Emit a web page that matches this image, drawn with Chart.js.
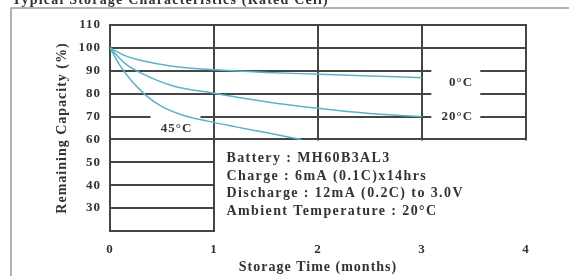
<!DOCTYPE html>
<html>
<head>
<meta charset="utf-8">
<script src="https://cdn.jsdelivr.net/npm/chart.js@4.4.1/dist/chart.umd.min.js"></script>
<style>
  html, body { margin: 0; padding: 0; background: #fff; }
  #wrap { width: 569px; height: 276px; position: relative; }
</style>
</head>
<body>
<div id="wrap"><canvas id="storageChart"></canvas></div>
<script>
// storage characteristics
var months0 = [0, 0.15, 0.3, 0.6, 1.0, 1.5, 2.0, 2.5, 3.0];
var cap0 = [100, 96.5, 94.5, 92.0, 90.4, 89.3, 88.5, 87.7, 87.0];

var months20 = [0, 0.15, 0.3, 0.6, 1.0, 1.5, 2.0, 2.5, 3.0];
var cap20 = [100, 93.0, 89.0, 83.5, 80.2, 76.5, 73.6, 71.3, 70.0];

var months45 = [0, 0.1, 0.2, 0.34, 0.5, 0.7, 0.95, 1.2, 1.5, 1.84];
var cap45 = [100, 92.0, 86.0, 79.5, 74.3, 70.6, 67.9, 65.6, 63.0, 60.0];

var seriesLabels = ['0\u00b0C', '20\u00b0C', '45\u00b0C'];
var xTicks = [0, 1, 2, 3, 4];
var yTicks = [30, 40, 50, 60, 70, 80, 90, 100, 110];

var noteLines = [
    'Battery : MH60B3AL3',
    'Charge : 6mA (0.1C)x14hrs',
    'Discharge : 12mA (0.2C) to 3.0V',
    'Ambient Temperature : 20\u00b0C'
];
var headline = 'Typical Storage Characteristics (Rated Cell)';

var serif = "'Liberation Serif', 'Times New Roman', serif";
var curveColor = '#5ab2c9';
var gridColor = '#454545';

var toPoints = function (xs, ys) {
    return xs.map(function (x, i) { return { x: x, y: ys[i] }; });
};

// the grid of the original is irregular, so it is drawn by hand from the scales
var gridPlugin = {
    id: 'handGrid',
    beforeDraw: function (chart) {
        chart.ctx.letterSpacing = '1px';
    },
    beforeDatasetsDraw: function (chart) {
        var ctx = chart.ctx;
        var xs = chart.scales.x, ys = chart.scales.y;
        var hLines = [
            { v: 110, segs: [[0, 4]] },
            { v: 100, segs: [[0, 4]] },
            { v: 90, segs: [[0, 3.08], [3.57, 4]] },
            { v: 80, segs: [[0, 3.08], [3.57, 4]] },
            { v: 70, segs: [[0, 0.38], [0.88, 3.08], [3.57, 4]] },
            { v: 60, segs: [[0, 4]] },
            { v: 50, segs: [[0, 1]] },
            { v: 40, segs: [[0, 1]] },
            { v: 30, segs: [[0, 1]] },
            { v: 20, segs: [[0, 1]] }
        ];
        var vLines = [
            { v: 0, from: 20, to: 110 },
            { v: 1, from: 20, to: 110 },
            { v: 2, from: 60, to: 110 },
            { v: 3, from: 60, to: 110 },
            { v: 4, from: 60, to: 110 }
        ];
        ctx.save();
        ctx.strokeStyle = gridColor;
        ctx.lineWidth = 2;
        ctx.lineCap = 'square';
        hLines.forEach(function (h) {
            var py = Math.round(ys.getPixelForValue(h.v));
            h.segs.forEach(function (s) {
                ctx.beginPath();
                ctx.moveTo(xs.getPixelForValue(s[0]), py);
                ctx.lineTo(xs.getPixelForValue(s[1]), py);
                ctx.stroke();
            });
        });
        vLines.forEach(function (l) {
            var px = Math.round(xs.getPixelForValue(l.v));
            ctx.beginPath();
            ctx.moveTo(px, ys.getPixelForValue(l.from));
            ctx.lineTo(px, ys.getPixelForValue(l.to));
            ctx.stroke();
        });

        // outer frame of the datasheet figure
        ctx.strokeStyle = '#9a9a9a';
        ctx.lineWidth = 1.5;
        ctx.beginPath();
        ctx.moveTo(11, chart.height);
        ctx.lineTo(11, 8);
        ctx.lineTo(chart.width, 8);
        ctx.stroke();
        ctx.restore();
    },
    afterDatasetsDraw: function (chart) {
        var ctx = chart.ctx;
        var xs = chart.scales.x, ys = chart.scales.y;
        ctx.save();
        ctx.fillStyle = '#333';
        ctx.font = 'bold 13px ' + serif;
        ctx.letterSpacing = '1px';
        ctx.textBaseline = 'middle';
        ctx.textAlign = 'center';
        ctx.fillText(seriesLabels[0], xs.getPixelForValue(3.375), ys.getPixelForValue(84.9));
        ctx.fillText(seriesLabels[1], xs.getPixelForValue(3.34), ys.getPixelForValue(70));
        ctx.fillText(seriesLabels[2], xs.getPixelForValue(0.64), ys.getPixelForValue(64.8));

        ctx.textAlign = 'left';
        ctx.font = 'bold 14px ' + serif;
        ctx.letterSpacing = '1.4px';
        var noteY = [51.8, 44, 36.6, 28.7];
        noteLines.forEach(function (t, i) {
            ctx.fillText(t, xs.getPixelForValue(1.12), ys.getPixelForValue(noteY[i]));
        });

        ctx.letterSpacing = '1.2px';
        ctx.fillText(headline, 12, 0);
        ctx.restore();
    }
};

var makeSet = function (label, xs, ys) {
    return {
        label: label,
        data: toPoints(xs, ys),
        borderColor: curveColor,
        borderWidth: 1.5,
        pointRadius: 0,
        fill: false,
        showLine: true,
        cubicInterpolationMode: 'monotone'
    };
};

new Chart('storageChart', {
    type: 'scatter',
    data: {
        datasets: [
            makeSet(seriesLabels[0], months0, cap0),
            makeSet(seriesLabels[1], months20, cap20),
            makeSet(seriesLabels[2], months45, cap45)
        ]
    },
    options: {
        responsive: true,
        maintainAspectRatio: false,
        animation: false,
        layout: { padding: { top: 25, right: 43, left: 54, bottom: 0 } },
        plugins: {
            legend: { display: false },
            tooltip: { enabled: false }
        },
        scales: {
            x: {
                type: 'linear',
                min: 0,
                max: 4,
                afterBuildTicks: function (axis) {
                    axis.ticks = xTicks.map(function (v) { return { value: v }; });
                },
                afterFit: function (axis) { axis.height = 45; },
                grid: { display: false, drawTicks: false },
                border: { display: false },
                ticks: {
                    padding: 11,
                    color: '#333',
                    maxRotation: 0,
                    font: { family: serif, size: 13, weight: 'bold' }
                },
                title: {
                    display: true,
                    text: 'Storage Time (months)',
                    color: '#333',
                    padding: { top: 0, bottom: 0 },
                    font: { family: serif, size: 14, weight: 'bold' }
                }
            },
            y: {
                min: 20,
                max: 110,
                afterBuildTicks: function (axis) {
                    axis.ticks = yTicks.map(function (v) { return { value: v }; });
                },
                afterFit: function (axis) { axis.width = 56; },
                grid: { display: false, drawTicks: false },
                border: { display: false },
                ticks: {
                    padding: 9,
                    color: '#333',
                    font: { family: serif, size: 13, weight: 'bold' }
                },
                title: {
                    display: true,
                    text: 'Remaining Capacity (%)',
                    color: '#333',
                    padding: { top: 0, bottom: 0 },
                    font: { family: serif, size: 14, weight: 'bold' }
                }
            }
        }
    },
    plugins: [gridPlugin]
});
</script>
</body>
</html>
